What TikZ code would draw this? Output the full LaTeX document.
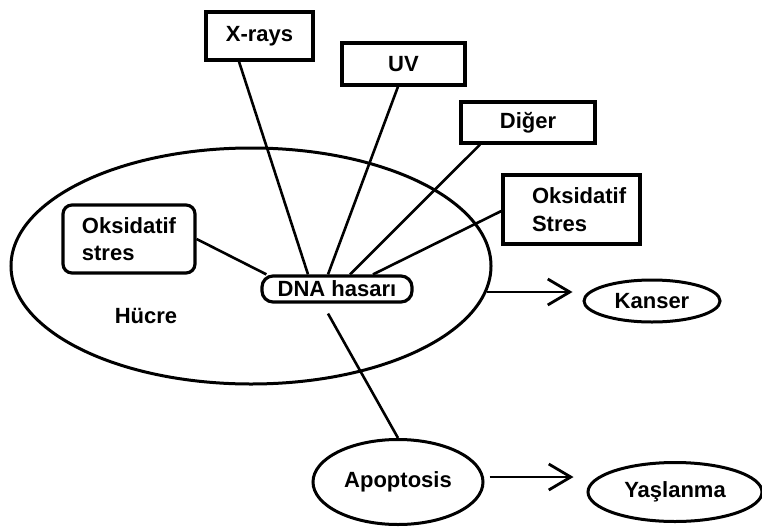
\documentclass[tikz,border=0pt]{standalone}
\usepackage{fontspec}
\setmainfont{Liberation Sans}
\usetikzlibrary{shapes.geometric,arrows.meta}
\begin{document}
\begin{tikzpicture}[x=1pt,y=-1pt,
  txt/.style={font=\fontsize{22}{27.5}\selectfont\bfseries},
  sqbox/.style={draw,line width=3.2pt,txt,inner sep=0pt,align=left},
  rbox/.style={sqbox,rounded corners=9pt},
  oval/.style={draw,ellipse,line width=3pt,txt,inner sep=0pt},
  link/.style={line width=2.6pt},
  arr/.style={line width=2.8pt,-{Straight Barb[length=22pt,width=26pt]}}
]
\useasboundingbox (0,0) rectangle (762,527);

% cell
\node[draw,ellipse,line width=3pt,minimum width=480pt,minimum height=236pt,inner sep=0pt] (cell) at (251,266) {};
\node[txt] (hucre) at (146,316) {Hücre};

% sources
\node[sqbox,minimum width=107pt,minimum height=48pt] (xrays) at (259.5,36) {X-rays};
\node[sqbox,minimum width=123pt,minimum height=42pt] (uv) at (403.5,64) {UV};
\node[sqbox,minimum width=134pt,minimum height=41pt] (diger) at (528,122.5) {Diğer};
\node[sqbox,text width=79pt,minimum width=137pt,minimum height=69pt] (oks2) at (571.5,209.5) {Oksidatif\\Stres};
\node[rbox,minimum width=132pt,minimum height=68pt] (oks1) at (129,239) {Oksidatif\\stres};

% DNA damage
\node[sqbox,rounded corners=11pt,minimum width=150pt,minimum height=26pt] (dna) at (337,289) {DNA hasarı};

% outcomes
\node[oval,minimum width=136pt,minimum height=42pt] (kanser) at (652,301) {Kanser};
\node[oval,minimum width=170pt,minimum height=85pt] (apo) at (398,482) {Apoptosis};
\node[oval,minimum width=174pt,minimum height=59pt] (yas) at (675,492) {Yaşlanma};

% connectors
\draw[link] ([xshift=-20.5pt]xrays.south) -- ([xshift=-29pt]dna.north);
\draw[link] ([xshift=-5.5pt]uv.south) -- ([xshift=-9pt]dna.north);
\draw[link] ([xshift=-48pt]diger.south) -- ([xshift=13pt]dna.north);
\draw[link] ([yshift=-1.5pt]oks2.west) -- ([xshift=36pt]dna.north);
\draw[link] (oks1.east) -- ([xshift=6pt]dna.north west);
\draw[link] ([xshift=-9pt,yshift=-10pt]dna.south) -- (apo.north);

\coordinate (a1) at (487,292);
\draw[arr] (a1) -- ([xshift=-10pt,yshift=9pt]kanser.west);
\draw[arr] ([xshift=5pt,yshift=5pt]apo.east) -- ([xshift=-13pt,yshift=15pt]yas.west);
\end{tikzpicture}
\end{document}
